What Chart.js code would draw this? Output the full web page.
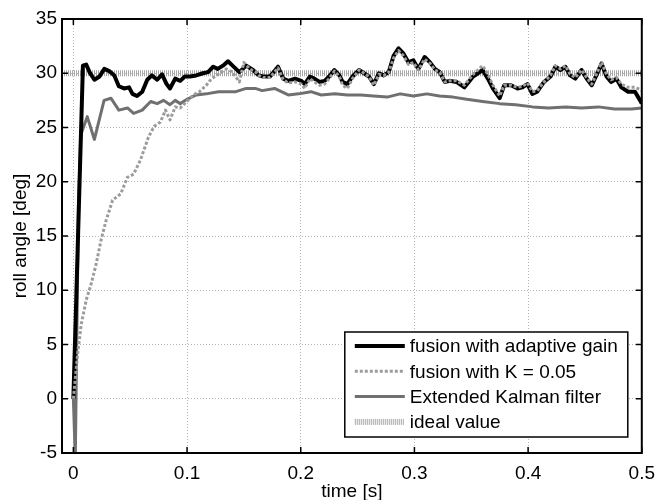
<!DOCTYPE html>
<html><head><meta charset="utf-8">
<script src="https://cdn.jsdelivr.net/npm/chart.js@4/dist/chart.umd.min.js"></script>
<style>html,body{margin:0;padding:0;background:#fff;}#wrap{width:664px;height:500px;position:relative;}</style>
</head><body><div id="wrap"><canvas id="c" width="664" height="500"></canvas></div>
<script>
const xTicks = [0, 0.1, 0.2, 0.3, 0.4, 0.5];
const yTicks = [-5, 0, 5, 10, 15, 20, 25, 30, 35];
const seriesLabels = ['fusion with adaptive gain', 'fusion with K = 0.05', 'Extended Kalman filter', 'ideal value'];

const adaptiveT = [0, 0.0084, 0.0113, 0.0142, 0.0185, 0.023, 0.0272, 0.0316, 0.036, 0.040, 0.0446, 0.049, 0.052, 0.056, 0.0606, 0.065, 0.069, 0.0737, 0.078, 0.082, 0.085, 0.0896, 0.094, 0.098, 0.1026, 0.108, 0.114, 0.1185, 0.123, 0.127, 0.1316, 0.136, 0.140, 0.146, 0.152, 0.158, 0.163, 0.167, 0.173, 0.180, 0.1846, 0.189, 0.195, 0.2006, 0.2035, 0.208, 0.212, 0.2165, 0.221, 0.225, 0.2296, 0.234, 0.2368, 0.241, 0.2455, 0.2513, 0.2557, 0.260, 0.2643, 0.2687, 0.273, 0.2774, 0.2817, 0.286, 0.2904, 0.2948, 0.299, 0.3035, 0.309, 0.3137, 0.318, 0.3223, 0.3267, 0.331, 0.337, 0.344, 0.3516, 0.360, 0.3646, 0.369, 0.375, 0.379, 0.385, 0.3907, 0.395, 0.3994, 0.4037, 0.408, 0.414, 0.4197, 0.424, 0.4284, 0.4328, 0.437, 0.4415, 0.447, 0.4516, 0.456, 0.460, 0.4646, 0.469, 0.473, 0.4777, 0.482, 0.488, 0.494, 0.4985, 0.5];
const adaptiveV = [0, 30.7, 30.8, 30.1, 29.4, 29.7, 30.4, 30.2, 29.8, 28.8, 28.6, 28.7, 28.1, 27.9, 28.3, 29.4, 29.8, 29.4, 29.9, 29.0, 28.6, 29.5, 29.3, 29.7, 29.7, 29.8, 30.0, 30.1, 30.6, 30.4, 30.7, 31.1, 30.7, 30.1, 30.7, 30.3, 29.8, 29.7, 29.7, 30.6, 29.5, 29.3, 29.5, 29.3, 29.0, 29.7, 29.5, 29.2, 29.3, 29.7, 30.3, 29.8, 29.2, 29.0, 29.7, 30.3, 30.0, 29.7, 29.0, 30.0, 29.8, 30.1, 31.6, 32.3, 31.8, 31.0, 31.2, 30.4, 31.5, 31.0, 30.4, 30.1, 29.2, 29.3, 29.2, 28.7, 29.7, 30.3, 29.5, 28.6, 27.7, 28.9, 28.9, 28.6, 28.7, 29.0, 28.1, 28.3, 29.2, 29.7, 30.6, 30.3, 30.6, 29.8, 29.5, 30.3, 29.5, 28.9, 29.8, 30.9, 29.7, 29.2, 29.5, 28.7, 28.3, 28.3, 27.5, 27.2];

const fixedT = [0, 0.004, 0.007, 0.0113, 0.0157, 0.020, 0.0243, 0.0287, 0.0345, 0.0417, 0.0475, 0.053, 0.059, 0.066, 0.071, 0.0765, 0.081, 0.085, 0.0896, 0.094, 0.0997, 0.1055, 0.111, 0.117, 0.1215, 0.126, 0.130, 0.1345, 0.140, 0.146, 0.150, 0.155, 0.1606, 0.163, 0.167, 0.173, 0.180, 0.1846, 0.189, 0.195, 0.2006, 0.2035, 0.208, 0.212, 0.2165, 0.221, 0.225, 0.2296, 0.234, 0.2368, 0.241, 0.2455, 0.2513, 0.2557, 0.260, 0.2643, 0.2687, 0.273, 0.2774, 0.2817, 0.286, 0.2904, 0.2948, 0.299, 0.3035, 0.309, 0.3137, 0.318, 0.3223, 0.3267, 0.331, 0.337, 0.344, 0.3516, 0.360, 0.3646, 0.369, 0.375, 0.379, 0.385, 0.3907, 0.395, 0.3994, 0.4037, 0.408, 0.414, 0.4197, 0.424, 0.4284, 0.4328, 0.437, 0.4415, 0.447, 0.4516, 0.456, 0.460, 0.4646, 0.469, 0.473, 0.4777, 0.482, 0.488, 0.494, 0.4985, 0.5];
const fixedV = [0, 4.4, 6.9, 9.1, 10.6, 12.4, 14.6, 16.4, 18.3, 18.9, 20.4, 20.7, 22.0, 24.1, 25.1, 25.5, 26.6, 25.7, 26.9, 26.8, 27.4, 28.0, 28.3, 28.9, 29.5, 29.8, 30.1, 30.4, 30.1, 29.2, 31.0, 30.4, 30.1, 29.8, 29.6, 29.6, 30.5, 29.4, 29.1, 29.2, 29.0, 28.6, 29.5, 29.2, 28.9, 29.0, 29.5, 30.2, 29.7, 28.9, 28.6, 29.5, 30.3, 30.0, 29.7, 28.9, 29.9, 29.8, 30.1, 31.4, 32.1, 31.6, 30.8, 31.0, 30.3, 31.3, 30.9, 30.3, 30.1, 29.2, 29.3, 29.3, 28.9, 29.9, 30.7, 29.9, 28.9, 27.9, 28.9, 28.9, 28.7, 28.8, 29.1, 28.3, 28.4, 29.2, 29.8, 30.7, 30.4, 30.7, 29.9, 29.6, 30.3, 29.6, 29.0, 29.9, 31.0, 29.9, 29.4, 29.6, 29.0, 28.7, 28.7, 28.5, 28.4];

const ekfT = [0, 0.0017, 0.0045, 0.0065, 0.0122, 0.0185, 0.027, 0.033, 0.040, 0.0476, 0.053, 0.0606, 0.068, 0.0737, 0.0794, 0.085, 0.0896, 0.094, 0.100, 0.108, 0.117, 0.1276, 0.1345, 0.143, 0.152, 0.160, 0.166, 0.177, 0.183, 0.189, 0.198, 0.209, 0.218, 0.230, 0.241, 0.253, 0.264, 0.276, 0.2875, 0.299, 0.311, 0.322, 0.334, 0.346, 0.360, 0.375, 0.389, 0.404, 0.418, 0.433, 0.447, 0.462, 0.476, 0.491, 0.5];
const ekfV = [0, -5.5, 18, 24.3, 26.0, 23.9, 27.5, 27.7, 26.6, 26.8, 26.3, 26.6, 27.4, 27.2, 27.5, 27.1, 27.5, 27.2, 27.6, 28.0, 28.1, 28.3, 28.3, 28.3, 28.6, 28.6, 28.4, 28.6, 28.3, 28.0, 28.1, 28.3, 28.0, 28.1, 28.0, 28.0, 27.9, 27.8, 28.1, 27.9, 28.1, 27.9, 27.8, 27.6, 27.4, 27.2, 27.1, 26.9, 26.8, 26.9, 26.8, 26.9, 26.7, 26.7, 26.8];

const idealT = [-0.01, 0.5];
const idealV = [30, 30];

function pts(t, v) { return t.map((x, i) => ({ x: x, y: v[i] })); }

const FONT = "'Liberation Sans', Arial, Helvetica, sans-serif";
Chart.defaults.font.family = FONT;
Chart.defaults.font.size = 19;
Chart.defaults.color = '#000';

const frameAndLegend = {
  id: 'frameAndLegend',
  afterDraw(chart) {
    const ctx = chart.ctx;
    const a = chart.chartArea;
    const xs = chart.scales.x, ys = chart.scales.y;
    ctx.save();
    ctx.strokeStyle = '#000';
    ctx.lineWidth = 1.5;
    ctx.beginPath();
    xTicks.forEach(v => {
      const px = xs.getPixelForValue(v);
      ctx.moveTo(px, a.bottom); ctx.lineTo(px, a.bottom - 6);
      ctx.moveTo(px, a.top); ctx.lineTo(px, a.top + 6);
    });
    yTicks.forEach(v => {
      const py = ys.getPixelForValue(v);
      ctx.moveTo(a.left, py); ctx.lineTo(a.left + 6, py);
      ctx.moveTo(a.right, py); ctx.lineTo(a.right - 6, py);
    });
    ctx.stroke();
    ctx.lineWidth = 2;
    ctx.strokeRect(a.left, a.top, a.right - a.left, a.bottom - a.top);
    const ds = chart.data.datasets;
    const boxW = 283, boxH = 105;
    const bx = a.right - 14 - boxW, by = a.bottom - 16 - boxH;
    ctx.fillStyle = '#fff';
    ctx.fillRect(bx, by, boxW, boxH);
    ctx.lineWidth = 1.5;
    ctx.strokeStyle = '#000';
    ctx.strokeRect(bx, by, boxW, boxH);
    ctx.font = '19px ' + FONT;
    ctx.textBaseline = 'middle';
    ctx.textAlign = 'left';
    [0, 1, 2, 3].forEach((i, k) => {
      const d = ds[i];
      const ry = by + 14 + k * 25.3;
      ctx.save();
      ctx.strokeStyle = d.borderColor;
      ctx.lineWidth = d.borderWidth;
      ctx.setLineDash(d.borderDash || []);
      ctx.beginPath();
      ctx.moveTo(bx + 10, ry); ctx.lineTo(bx + 60, ry);
      ctx.stroke();
      ctx.restore();
      ctx.fillStyle = '#000';
      ctx.fillText(d.label, bx + 65, ry + 1);
    });
    ctx.restore();
  }
};

const chart = new Chart(document.getElementById('c'), {
  type: 'line',
  data: {
    datasets: [
      { label: seriesLabels[0], data: pts(adaptiveT, adaptiveV), borderColor: '#000', borderWidth: 4, pointRadius: 0, order: 1, clip: 0 },
      { label: seriesLabels[1], data: pts(fixedT, fixedV), borderColor: '#9c9c9c', borderWidth: 3, borderDash: [3, 2], pointRadius: 0, order: 0, clip: 0 },
      { label: seriesLabels[2], data: pts(ekfT, ekfV), borderColor: '#707070', borderWidth: 3, pointRadius: 0, order: 2, clip: 0 },
      { label: seriesLabels[3], data: pts(idealT, idealV), borderColor: '#a8a8a8', borderWidth: 6, borderDash: [1, 1], pointRadius: 0, order: 3, clip: 0 }
    ]
  },
  options: {
    responsive: false,
    animation: false,
    devicePixelRatio: 1,
    layout: { padding: { top: 19, right: 15, left: 0, bottom: 0 } },
    plugins: { legend: { display: false }, tooltip: { enabled: false } },
    elements: { line: { tension: 0, borderJoinStyle: 'round', borderCapStyle: 'butt' } },
    scales: {
      x: {
        type: 'linear', min: -0.01, max: 0.5,
        afterBuildTicks: s => { s.ticks = xTicks.map(v => ({ value: v })); },
        afterFit: s => { s.height = 47; },
        ticks: { padding: 9, maxRotation: 0, autoSkip: false, color: '#000', font: { size: 19 } },
        grid: { color: '#b5b5b5', lineWidth: 1, drawTicks: false },
        border: { display: false, dash: [1, 2] },
        title: { display: true, text: 'time [s]', color: '#000', font: { size: 19, lineHeight: 0.9 }, padding: { top: 0, bottom: 0 } }
      },
      y: {
        type: 'linear', min: -5, max: 35,
        afterBuildTicks: s => { s.ticks = yTicks.map(v => ({ value: v })); },
        afterFit: s => { s.width = 62; },
        ticks: { padding: 5, color: '#000', font: { size: 19 } },
        grid: { color: '#b5b5b5', lineWidth: 1, drawTicks: false },
        border: { display: false, dash: [1, 2] },
        title: { display: true, text: 'roll angle [deg]', color: '#000', font: { size: 19, lineHeight: 1.2 }, padding: { top: 9, bottom: 0 } }
      }
    }
  },
  plugins: [frameAndLegend]
});
</script>
</body></html>
